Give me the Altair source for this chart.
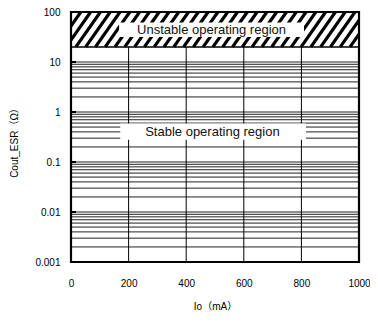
import altair as alt
import pandas as pd

# ---- data ----
io_ticks = [0, 200, 400, 600, 800, 1000]
io_grid = [200, 400, 600, 800]
esr_decades = [0.001, 0.01, 0.1, 1, 10, 100]
esr_marked = [0.01, 0.1, 1, 10]
minor_mult = [1, 2, 3, 4, 5, 6, 7, 8, 9]
grid_decades = [0.001, 0.01, 0.1, 1]
unstable_lo = 20
unstable_hi = 100
region_labels = ["Unstable operating region", "Stable operating region"]
label_io = [488, 491]
label_esr = [44.5, 0.39]
box_io_lo = [167, 171]
box_io_hi = [809, 816]
box_esr_lo = [31.6, 0.28]
box_esr_hi = [61.7, 0.59]

W, H = 288, 250
FONT = "Liberation Sans, Arial, Noto Sans CJK JP"

x_scale = alt.Scale(domain=[0, 1000], nice=False, zero=False)
y_scale = alt.Scale(type="log", domain=[0.001, 100], nice=False)

grid_vals = [d * m for d in grid_decades for m in minor_mult] + [10]
hgrid_df = pd.DataFrame({"esr": grid_vals})
vgrid_df = pd.DataFrame({"io": io_grid})

hgrid = alt.Chart(hgrid_df).mark_rule(color="#222", strokeWidth=1).encode(
    y=alt.Y("esr:Q", scale=y_scale)
)

vgrid = alt.Chart(vgrid_df).mark_rule(color="#000", strokeWidth=1).encode(
    x=alt.X("io:Q", scale=x_scale)
)

zone_df = pd.DataFrame({"x0": [0], "x1": [1000], "y0": [unstable_lo], "y1": [unstable_hi]})
zone = alt.Chart(zone_df).mark_rect(color="white").encode(
    x=alt.X("x0:Q", scale=x_scale), x2="x1",
    y=alt.Y("y0:Q", scale=y_scale), y2="y1")

period, run = 34, 85
starts = list(range(-run - period, 1000 + period, period))
stripe_df = pd.DataFrame({"a": starts, "b": [s + run for s in starts],
                          "lo": [unstable_lo] * len(starts), "hi": [unstable_hi] * len(starts)})
stripes = alt.Chart(stripe_df).mark_rule(color="#000", strokeWidth=3.2, clip=True).encode(
    x=alt.X("a:Q", scale=x_scale), x2="b",
    y=alt.Y("lo:Q", scale=y_scale), y2="hi")

zone_line = alt.Chart(pd.DataFrame({"y": [unstable_lo]})).mark_rule(
    color="#000", strokeWidth=1.5).encode(y=alt.Y("y:Q", scale=y_scale))

box_df = pd.DataFrame({"x0": box_io_lo, "x1": box_io_hi, "y0": box_esr_lo, "y1": box_esr_hi})
boxes = alt.Chart(box_df).mark_rect(color="white").encode(
    x=alt.X("x0:Q", scale=x_scale), x2="x1",
    y=alt.Y("y0:Q", scale=y_scale), y2="y1")

lab_df = pd.DataFrame({"t": region_labels, "x": label_io, "y": label_esr})
labels = alt.Chart(lab_df).mark_text(font=FONT, fontSize=13, color="#111",
                                     align="center", baseline="middle").encode(
    x=alt.X("x:Q", scale=x_scale),
    y=alt.Y("y:Q", scale=y_scale), text="t:N")

tick_df = pd.DataFrame({"y": esr_marked})
ticks = alt.Chart(tick_df).mark_rule(color="#000", strokeWidth=2).encode(
    y=alt.Y("y:Q", scale=y_scale), x=alt.value(0), x2=alt.value(5))

border_df = pd.DataFrame({"x0": [0], "x1": [1000], "y0": [0.001], "y1": [100]})
border = alt.Chart(border_df).mark_rect(filled=False, stroke="#000", strokeWidth=2.2).encode(
    x=alt.X("x0:Q", scale=x_scale,
            axis=alt.Axis(values=io_ticks, format="d", ticks=False, grid=False,
                          domain=False, labelPadding=16, labelFlush=False,
                          labelFontSize=10, labelFont=FONT, labelColor="#000",
                          title="Io（mA）", titleFont=FONT, titleFontSize=10,
                          titleFontWeight="normal", titleColor="#000",
                          titleY=44, titleBaseline="middle")),
    x2="x1",
    y=alt.Y("y0:Q", scale=y_scale,
            axis=alt.Axis(values=esr_decades, format="~g", ticks=False, grid=False,
                          domain=False, labelPadding=11, labelFontSize=10,
                          labelFont=FONT, labelColor="#000",
                          title="Cout_ESR（Ω）", titleFont=FONT, titleFontSize=10,
                          titleFontWeight="normal", titleColor="#000",
                          titleX=-57, titleY=128, titleAngle=270,
                          titleAlign="center", titleBaseline="middle")),
    y2="y1")

chart = alt.layer(hgrid, vgrid, zone, stripes, zone_line, boxes, labels, ticks, border).properties(
    width=W, height=H,
    autosize=alt.AutoSizeParams(type="none"),
    padding={"left": 63, "top": 4, "right": 11, "bottom": 50},
).configure_view(stroke=None).configure(background="white")

chart.save("out.html", embed_options={"renderer": "svg", "actions": False})
